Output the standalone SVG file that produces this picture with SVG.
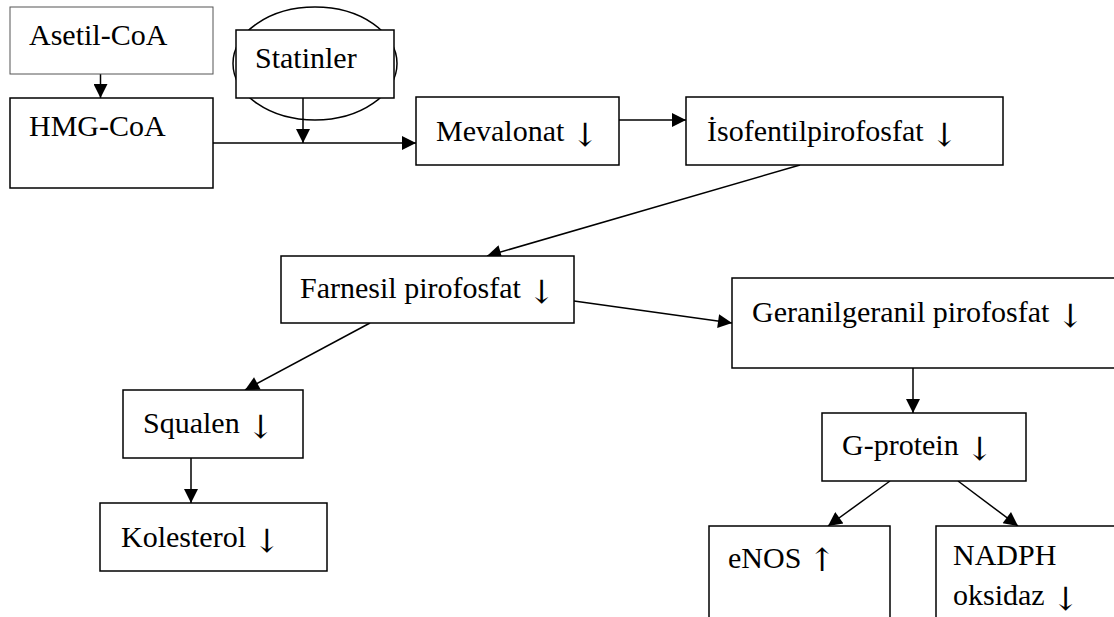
<svg xmlns="http://www.w3.org/2000/svg" width="1114" height="617" viewBox="0 0 1114 617">
<style>
.box{fill:#fff;stroke:#000;stroke-width:1.5}
.thin{fill:#fff;stroke:#555;stroke-width:1}
.t{font-family:"Liberation Serif","Times New Roman",serif;font-size:30px;fill:#000}
.a{font-family:"DejaVu Serif","DejaVu Sans",serif;font-size:32px;font-weight:normal}
.c{stroke:#000;stroke-width:1.5;fill:none;marker-end:url(#ah)}
</style>
<defs>
<marker id="ah" viewBox="0 0 10 10" refX="10" refY="5" markerUnits="userSpaceOnUse" markerWidth="16" markerHeight="14" orient="auto">
<path d="M0,0 L10,5 L0,10 z" fill="#000"/>
</marker>
</defs>
<rect width="1114" height="617" fill="#fff"/>
<g id="statin-ellipse"><ellipse cx="315" cy="63.5" rx="82" ry="56.5" fill="#fff" stroke="#000" stroke-width="1.5"/></g>
<g id="connectors">
<line class="c" x1="100.5" y1="74" x2="100.5" y2="98"/>
<line class="c" x1="213" y1="143" x2="416" y2="143"/>
<line class="c" x1="303" y1="98" x2="303" y2="143"/>
<line class="c" x1="619" y1="120" x2="686" y2="120"/>
<line class="c" x1="800" y1="165" x2="487" y2="256"/>
<line class="c" x1="574" y1="301" x2="732" y2="323"/>
<line class="c" x1="370" y1="323" x2="245" y2="390"/>
<line class="c" x1="191" y1="458" x2="191" y2="503"/>
<line class="c" x1="913" y1="368" x2="913" y2="413"/>
<line class="c" x1="890" y1="481" x2="828" y2="526"/>
<line class="c" x1="958" y1="481" x2="1018" y2="526"/>
</g>
<g id="asetil"><rect class="thin" x="10" y="7" width="203" height="67"/><text class="t" x="29" y="45">Asetil-CoA</text></g>
<g id="hmg"><rect class="box" x="10" y="98" width="203" height="90"/><text class="t" x="29" y="136">HMG-CoA</text></g>
<g id="statinler"><rect class="box" x="236" y="30" width="158" height="68"/><text class="t" x="255" y="68">Statinler</text></g>
<g id="mevalonat"><rect class="box" x="416" y="97" width="203" height="68"/><text class="t" x="436" y="141">Mevalonat <tspan class="a" dy="5">↓</tspan></text></g>
<g id="isofentil"><rect class="box" x="686" y="97" width="317" height="68"/><text class="t" x="707" y="141">İsofentilpirofosfat <tspan class="a" dy="5">↓</tspan></text></g>
<g id="farnesil"><rect class="box" x="281" y="256" width="293" height="67"/><text class="t" x="300" y="298">Farnesil pirofosfat <tspan class="a" dy="5">↓</tspan></text></g>
<g id="geranil"><rect class="box" x="732" y="278" width="400" height="90"/><text class="t" x="752" y="322">Geranilgeranil pirofosfat <tspan class="a" dy="5">↓</tspan></text></g>
<g id="squalen"><rect class="box" x="123" y="390" width="180" height="68"/><text class="t" x="143" y="433">Squalen <tspan class="a" dy="5">↓</tspan></text></g>
<g id="kolesterol"><rect class="box" x="100" y="503" width="227" height="68"/><text class="t" x="121" y="547">Kolesterol <tspan class="a" dy="5">↓</tspan></text></g>
<g id="gprotein"><rect class="box" x="822" y="413" width="204" height="68"/><text class="t" x="842" y="455">G-protein <tspan class="a" dy="5">↓</tspan></text></g>
<g id="enos"><rect class="box" x="709" y="526" width="181" height="100"/><text class="t" x="728" y="568">eNOS <tspan class="a" dy="3">↑</tspan></text></g>
<g id="nadph"><rect class="box" x="936" y="526" width="200" height="100"/><text class="t" x="953" y="565">NADPH</text><text class="t" x="953" y="605">oksidaz  <tspan class="a" dy="5">↓</tspan></text></g>
</svg>
